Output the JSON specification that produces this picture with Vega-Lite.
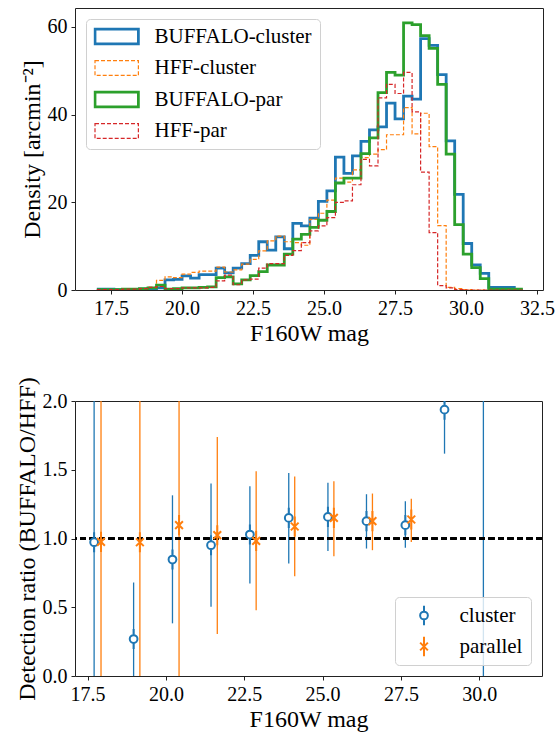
{
  "$schema": "https://vega.github.io/schema/vega-lite/v6.json",
  "background": "white",
  "padding": {"left": 14, "top": 7, "right": 5, "bottom": 5},
  "spacing": 111,
  "bounds": "flush",
  "resolve": {"scale": {"color": "independent", "shape": "independent", "strokeDash": "independent", "strokeWidth": "independent"}, "legend": {"color": "independent", "shape": "independent"}},
  "config": {
    "view": {"stroke": "#222", "strokeWidth": 1},
    "axis": {
      "domain": false, "grid": false, "ticks": true, "tickColor": "#222", "tickSize": 4, "tickWidth": 1,
      "labelFont": "Liberation Serif", "labelFontSize": 20, "labelColor": "black", "labelPadding": 4,
      "titleFont": "Liberation Serif", "titleFontSize": 24, "titleFontWeight": "normal", "titleColor": "black", "titlePadding": 3
    },
    "legend": {"labelFont": "Liberation Serif", "labelColor": "black"}
  },
  "datasets": {
    "hist": [
      {"sample":"BUFFALO-cluster","mag":17.0,"density":0.2},{"sample":"BUFFALO-cluster","mag":17.3,"density":0.2},{"sample":"BUFFALO-cluster","mag":17.6,"density":0.1},{"sample":"BUFFALO-cluster","mag":17.9,"density":0.1},{"sample":"BUFFALO-cluster","mag":18.2,"density":0.1},{"sample":"BUFFALO-cluster","mag":18.5,"density":0.2},{"sample":"BUFFALO-cluster","mag":18.8,"density":0.3},{"sample":"BUFFALO-cluster","mag":19.1,"density":0.5},{"sample":"BUFFALO-cluster","mag":19.4,"density":2.3},{"sample":"BUFFALO-cluster","mag":19.7,"density":2.4},
      {"sample":"BUFFALO-cluster","mag":20.0,"density":3.2},{"sample":"BUFFALO-cluster","mag":20.3,"density":2.7},{"sample":"BUFFALO-cluster","mag":20.6,"density":3.5},{"sample":"BUFFALO-cluster","mag":20.9,"density":3.5},{"sample":"BUFFALO-cluster","mag":21.2,"density":5.0},{"sample":"BUFFALO-cluster","mag":21.5,"density":3.9},{"sample":"BUFFALO-cluster","mag":21.8,"density":5.0},{"sample":"BUFFALO-cluster","mag":22.1,"density":6.0},{"sample":"BUFFALO-cluster","mag":22.4,"density":7.9},{"sample":"BUFFALO-cluster","mag":22.7,"density":11.0},
      {"sample":"BUFFALO-cluster","mag":23.0,"density":9.1},{"sample":"BUFFALO-cluster","mag":23.3,"density":12.1},{"sample":"BUFFALO-cluster","mag":23.6,"density":9.4},{"sample":"BUFFALO-cluster","mag":23.9,"density":15.2},{"sample":"BUFFALO-cluster","mag":24.2,"density":14.6},{"sample":"BUFFALO-cluster","mag":24.5,"density":16.4},{"sample":"BUFFALO-cluster","mag":24.8,"density":20.2},{"sample":"BUFFALO-cluster","mag":25.1,"density":22.6},{"sample":"BUFFALO-cluster","mag":25.4,"density":30.3},{"sample":"BUFFALO-cluster","mag":25.7,"density":26.6},
      {"sample":"BUFFALO-cluster","mag":26.0,"density":30.6},{"sample":"BUFFALO-cluster","mag":26.3,"density":33.9},{"sample":"BUFFALO-cluster","mag":26.6,"density":36.5},{"sample":"BUFFALO-cluster","mag":26.9,"density":37.2},{"sample":"BUFFALO-cluster","mag":27.2,"density":42.6},{"sample":"BUFFALO-cluster","mag":27.5,"density":39.0},{"sample":"BUFFALO-cluster","mag":27.8,"density":44.2},{"sample":"BUFFALO-cluster","mag":28.1,"density":43.5},{"sample":"BUFFALO-cluster","mag":28.4,"density":57.3},{"sample":"BUFFALO-cluster","mag":28.7,"density":55.8},
      {"sample":"BUFFALO-cluster","mag":29.0,"density":49.1},{"sample":"BUFFALO-cluster","mag":29.3,"density":34.0},{"sample":"BUFFALO-cluster","mag":29.6,"density":21.8},{"sample":"BUFFALO-cluster","mag":29.9,"density":10.6},{"sample":"BUFFALO-cluster","mag":30.2,"density":5.7},{"sample":"BUFFALO-cluster","mag":30.5,"density":3.8},{"sample":"BUFFALO-cluster","mag":30.8,"density":0.6},{"sample":"BUFFALO-cluster","mag":31.1,"density":0.6},{"sample":"BUFFALO-cluster","mag":31.4,"density":0.6},{"sample":"BUFFALO-cluster","mag":31.7,"density":0.0},{"sample":"BUFFALO-cluster","mag":32.0,"density":0.0},

      {"sample":"HFF-cluster","mag":17.0,"density":0.0},{"sample":"HFF-cluster","mag":17.3,"density":0.0},{"sample":"HFF-cluster","mag":17.6,"density":0.0},{"sample":"HFF-cluster","mag":17.9,"density":0.1},{"sample":"HFF-cluster","mag":18.2,"density":0.1},{"sample":"HFF-cluster","mag":18.5,"density":0.3},{"sample":"HFF-cluster","mag":18.8,"density":0.6},{"sample":"HFF-cluster","mag":19.1,"density":2.2},{"sample":"HFF-cluster","mag":19.4,"density":3.0},{"sample":"HFF-cluster","mag":19.7,"density":2.8},
      {"sample":"HFF-cluster","mag":20.0,"density":3.6},{"sample":"HFF-cluster","mag":20.3,"density":4.0},{"sample":"HFF-cluster","mag":20.6,"density":4.3},{"sample":"HFF-cluster","mag":20.9,"density":4.3},{"sample":"HFF-cluster","mag":21.2,"density":5.2},{"sample":"HFF-cluster","mag":21.5,"density":4.1},{"sample":"HFF-cluster","mag":21.8,"density":4.6},{"sample":"HFF-cluster","mag":22.1,"density":5.9},{"sample":"HFF-cluster","mag":22.4,"density":7.0},{"sample":"HFF-cluster","mag":22.7,"density":8.9},
      {"sample":"HFF-cluster","mag":23.0,"density":11.2},{"sample":"HFF-cluster","mag":23.3,"density":12.3},{"sample":"HFF-cluster","mag":23.6,"density":11.0},{"sample":"HFF-cluster","mag":23.9,"density":10.8},{"sample":"HFF-cluster","mag":24.2,"density":10.2},{"sample":"HFF-cluster","mag":24.5,"density":16.1},{"sample":"HFF-cluster","mag":24.8,"density":17.5},{"sample":"HFF-cluster","mag":25.1,"density":20.5},{"sample":"HFF-cluster","mag":25.4,"density":25.5},{"sample":"HFF-cluster","mag":25.7,"density":24.6},
      {"sample":"HFF-cluster","mag":26.0,"density":27.4},{"sample":"HFF-cluster","mag":26.3,"density":30.2},{"sample":"HFF-cluster","mag":26.6,"density":31.0},{"sample":"HFF-cluster","mag":26.9,"density":32.0},{"sample":"HFF-cluster","mag":27.2,"density":35.4},{"sample":"HFF-cluster","mag":27.5,"density":35.4},{"sample":"HFF-cluster","mag":27.8,"density":41.6},{"sample":"HFF-cluster","mag":28.1,"density":35.6},{"sample":"HFF-cluster","mag":28.4,"density":40.3},{"sample":"HFF-cluster","mag":28.7,"density":32.7},
      {"sample":"HFF-cluster","mag":29.0,"density":14.7},{"sample":"HFF-cluster","mag":29.3,"density":0.6},{"sample":"HFF-cluster","mag":29.6,"density":0.3},{"sample":"HFF-cluster","mag":29.9,"density":0.1},{"sample":"HFF-cluster","mag":30.2,"density":0.0},{"sample":"HFF-cluster","mag":30.5,"density":0.0},{"sample":"HFF-cluster","mag":30.8,"density":0.0},{"sample":"HFF-cluster","mag":31.1,"density":0.0},{"sample":"HFF-cluster","mag":31.4,"density":0.0},{"sample":"HFF-cluster","mag":31.7,"density":0.0},{"sample":"HFF-cluster","mag":32.0,"density":0.0},

      {"sample":"BUFFALO-par","mag":17.0,"density":0.1},{"sample":"BUFFALO-par","mag":17.3,"density":0.1},{"sample":"BUFFALO-par","mag":17.6,"density":0.1},{"sample":"BUFFALO-par","mag":17.9,"density":0.2},{"sample":"BUFFALO-par","mag":18.2,"density":0.2},{"sample":"BUFFALO-par","mag":18.5,"density":0.3},{"sample":"BUFFALO-par","mag":18.8,"density":0.5},{"sample":"BUFFALO-par","mag":19.1,"density":1.1},{"sample":"BUFFALO-par","mag":19.4,"density":0.2},{"sample":"BUFFALO-par","mag":19.7,"density":0.3},
      {"sample":"BUFFALO-par","mag":20.0,"density":0.5},{"sample":"BUFFALO-par","mag":20.3,"density":0.5},{"sample":"BUFFALO-par","mag":20.6,"density":0.6},{"sample":"BUFFALO-par","mag":20.9,"density":0.7},{"sample":"BUFFALO-par","mag":21.2,"density":2.8},{"sample":"BUFFALO-par","mag":21.5,"density":3.0},{"sample":"BUFFALO-par","mag":21.8,"density":1.4},{"sample":"BUFFALO-par","mag":22.1,"density":2.3},{"sample":"BUFFALO-par","mag":22.4,"density":3.3},{"sample":"BUFFALO-par","mag":22.7,"density":4.2},
      {"sample":"BUFFALO-par","mag":23.0,"density":5.7},{"sample":"BUFFALO-par","mag":23.3,"density":5.7},{"sample":"BUFFALO-par","mag":23.6,"density":8.2},{"sample":"BUFFALO-par","mag":23.9,"density":11.6},{"sample":"BUFFALO-par","mag":24.2,"density":12.7},{"sample":"BUFFALO-par","mag":24.5,"density":14.3},{"sample":"BUFFALO-par","mag":24.8,"density":15.9},{"sample":"BUFFALO-par","mag":25.1,"density":17.9},{"sample":"BUFFALO-par","mag":25.4,"density":24.4},{"sample":"BUFFALO-par","mag":25.7,"density":25.5},
      {"sample":"BUFFALO-par","mag":26.0,"density":25.5},{"sample":"BUFFALO-par","mag":26.3,"density":31.1},{"sample":"BUFFALO-par","mag":26.6,"density":34.7},{"sample":"BUFFALO-par","mag":26.9,"density":45.0},{"sample":"BUFFALO-par","mag":27.2,"density":49.6},{"sample":"BUFFALO-par","mag":27.5,"density":49.0},{"sample":"BUFFALO-par","mag":27.8,"density":60.9},{"sample":"BUFFALO-par","mag":28.1,"density":60.5},{"sample":"BUFFALO-par","mag":28.4,"density":58.0},{"sample":"BUFFALO-par","mag":28.7,"density":55.1},
      {"sample":"BUFFALO-par","mag":29.0,"density":46.9},{"sample":"BUFFALO-par","mag":29.3,"density":31.0},{"sample":"BUFFALO-par","mag":29.6,"density":14.9},{"sample":"BUFFALO-par","mag":29.9,"density":8.2},{"sample":"BUFFALO-par","mag":30.2,"density":5.1},{"sample":"BUFFALO-par","mag":30.5,"density":2.6},{"sample":"BUFFALO-par","mag":30.8,"density":0.2},{"sample":"BUFFALO-par","mag":31.1,"density":0.2},{"sample":"BUFFALO-par","mag":31.4,"density":0.2},{"sample":"BUFFALO-par","mag":31.7,"density":0.2},{"sample":"BUFFALO-par","mag":32.0,"density":0.2},

      {"sample":"HFF-par","mag":17.0,"density":0.1},{"sample":"HFF-par","mag":17.3,"density":0.1},{"sample":"HFF-par","mag":17.6,"density":0.1},{"sample":"HFF-par","mag":17.9,"density":0.2},{"sample":"HFF-par","mag":18.2,"density":0.2},{"sample":"HFF-par","mag":18.5,"density":0.3},{"sample":"HFF-par","mag":18.8,"density":0.6},{"sample":"HFF-par","mag":19.1,"density":0.8},{"sample":"HFF-par","mag":19.4,"density":0.3},{"sample":"HFF-par","mag":19.7,"density":0.3},
      {"sample":"HFF-par","mag":20.0,"density":0.5},{"sample":"HFF-par","mag":20.3,"density":0.5},{"sample":"HFF-par","mag":20.6,"density":0.5},{"sample":"HFF-par","mag":20.9,"density":0.6},{"sample":"HFF-par","mag":21.2,"density":2.1},{"sample":"HFF-par","mag":21.5,"density":3.4},{"sample":"HFF-par","mag":21.8,"density":1.2},{"sample":"HFF-par","mag":22.1,"density":2.3},{"sample":"HFF-par","mag":22.4,"density":2.5},{"sample":"HFF-par","mag":22.7,"density":5.0},
      {"sample":"HFF-par","mag":23.0,"density":6.0},{"sample":"HFF-par","mag":23.3,"density":6.0},{"sample":"HFF-par","mag":23.6,"density":7.9},{"sample":"HFF-par","mag":23.9,"density":9.0},{"sample":"HFF-par","mag":24.2,"density":10.8},{"sample":"HFF-par","mag":24.5,"density":13.5},{"sample":"HFF-par","mag":24.8,"density":14.6},{"sample":"HFF-par","mag":25.1,"density":16.5},{"sample":"HFF-par","mag":25.4,"density":20.0},{"sample":"HFF-par","mag":25.7,"density":20.3},
      {"sample":"HFF-par","mag":26.0,"density":24.0},{"sample":"HFF-par","mag":26.3,"density":29.8},{"sample":"HFF-par","mag":26.6,"density":28.3},{"sample":"HFF-par","mag":26.9,"density":43.8},{"sample":"HFF-par","mag":27.2,"density":46.9},{"sample":"HFF-par","mag":27.5,"density":44.8},{"sample":"HFF-par","mag":27.8,"density":49.6},{"sample":"HFF-par","mag":28.1,"density":40.6},{"sample":"HFF-par","mag":28.4,"density":26.9},{"sample":"HFF-par","mag":28.7,"density":13.1},
      {"sample":"HFF-par","mag":29.0,"density":1.0},{"sample":"HFF-par","mag":29.3,"density":0.5},{"sample":"HFF-par","mag":29.6,"density":0.1},{"sample":"HFF-par","mag":29.9,"density":0.0},{"sample":"HFF-par","mag":30.2,"density":0.0},{"sample":"HFF-par","mag":30.5,"density":0.0},{"sample":"HFF-par","mag":30.8,"density":0.0},{"sample":"HFF-par","mag":31.1,"density":0.0},{"sample":"HFF-par","mag":31.4,"density":0.0},{"sample":"HFF-par","mag":31.7,"density":0.0},{"sample":"HFF-par","mag":32.0,"density":0.0}
    ],
    "ratio": [
      {"sample":"cluster","mag":17.71,"ratio":0.973,"lo":-0.5,"hi":2.5},
      {"sample":"cluster","mag":18.97,"ratio":0.269,"lo":-0.14,"hi":0.68},
      {"sample":"cluster","mag":20.21,"ratio":0.847,"lo":0.383,"hi":1.314},
      {"sample":"cluster","mag":21.44,"ratio":0.951,"lo":0.503,"hi":1.40},
      {"sample":"cluster","mag":22.68,"ratio":1.029,"lo":0.673,"hi":1.38},
      {"sample":"cluster","mag":23.92,"ratio":1.15,"lo":0.818,"hi":1.476},
      {"sample":"cluster","mag":25.17,"ratio":1.157,"lo":0.91,"hi":1.406},
      {"sample":"cluster","mag":26.40,"ratio":1.126,"lo":0.927,"hi":1.322},
      {"sample":"cluster","mag":27.64,"ratio":1.097,"lo":0.932,"hi":1.271},
      {"sample":"cluster","mag":28.89,"ratio":1.937,"lo":1.617,"hi":2.257},
      {"sample":"cluster","mag":30.13,"ratio":null,"lo":-1,"hi":5},
      {"sample":"parallel","mag":17.93,"ratio":0.975,"lo":-0.3,"hi":2.3},
      {"sample":"parallel","mag":19.17,"ratio":0.973,"lo":-0.3,"hi":2.3},
      {"sample":"parallel","mag":20.42,"ratio":1.097,"lo":-0.2,"hi":2.4},
      {"sample":"parallel","mag":21.64,"ratio":1.024,"lo":0.305,"hi":1.738},
      {"sample":"parallel","mag":22.88,"ratio":0.983,"lo":0.479,"hi":1.49},
      {"sample":"parallel","mag":24.11,"ratio":1.087,"lo":0.726,"hi":1.45},
      {"sample":"parallel","mag":25.36,"ratio":1.15,"lo":0.871,"hi":1.416},
      {"sample":"parallel","mag":26.59,"ratio":1.126,"lo":0.915,"hi":1.327},
      {"sample":"parallel","mag":27.83,"ratio":1.138,"lo":0.975,"hi":1.29}
    ]
  },
  "vconcat": [
    {
      "width": 468,
      "height": 282,
      "data": {"name": "hist"},
      "mark": {"type": "line", "interpolate": "step-after", "clip": true},
      "encoding": {
        "x": {"field": "mag", "type": "quantitative",
              "scale": {"domain": [16.23, 32.71], "nice": false, "zero": false},
              "axis": {"values": [17.5, 20, 22.5, 25, 27.5, 30, 32.5], "format": ".1f", "title": "F160W mag"}},
        "y": {"field": "density", "type": "quantitative",
              "scale": {"domain": [0, 64.3], "nice": false},
              "axis": {"values": [0, 20, 40, 60], "title": "Density [arcmin⁻²]"}},
        "color": {"field": "sample", "type": "nominal",
                  "scale": {"domain": ["BUFFALO-cluster", "HFF-cluster", "BUFFALO-par", "HFF-par"],
                            "range": ["#1f77b4", "#ff7f0e", "#2ca02c", "#d62728"]},
                  "legend": {"title": null, "orient": "top-left", "offset": 11, "padding": 7.5,
                             "fillColor": "rgba(255,255,255,0.8)", "strokeColor": "#d0d0d0", "cornerRadius": 4,
                             "labelFont": "Liberation Serif", "labelFontSize": 21, "labelOffset": 40, "labelLimit": 300,
                             "symbolType": "M-1,-0.83H3.82V0.83H-1Z", "symbolSize": 324, "rowPadding": 10.5, "clipHeight": 20,
                             "symbolFillColor": "transparent",
                             "encode": {"symbols": {"update": {
                               "strokeWidth": {"signal": "indexof(['BUFFALO-cluster','BUFFALO-par'], datum.value) >= 0 ? 2.8 : 1.2"},
                               "strokeDash": {"signal": "indexof(['BUFFALO-cluster','BUFFALO-par'], datum.value) >= 0 ? [1,0] : [4,2]"},
                               "fill": {"value": "transparent"}
                             }}}}},
        "strokeDash": {"field": "sample", "type": "nominal", "legend": null,
                       "scale": {"domain": ["BUFFALO-cluster", "HFF-cluster", "BUFFALO-par", "HFF-par"],
                                 "range": [[1, 0], [4, 2], [1, 0], [4, 2]]}},
        "strokeWidth": {"field": "sample", "type": "nominal", "legend": null,
                        "scale": {"type": "ordinal", "domain": ["BUFFALO-cluster", "HFF-cluster", "BUFFALO-par", "HFF-par"],
                                  "range": [2.8, 1.2, 2.8, 1.2]}}
      }
    },
    {
      "width": 467,
      "height": 275,
      "data": {"name": "ratio"},
      "layer": [
        {
          "mark": {"type": "rule", "clip": true, "strokeWidth": 1.3},
          "encoding": {
            "x": {"field": "mag", "type": "quantitative",
                  "scale": {"domain": [17.1, 32.0], "nice": false, "zero": false},
                  "axis": {"values": [17.5, 20, 22.5, 25, 27.5, 30], "format": ".1f", "title": "F160W mag"}},
            "y": {"field": "lo", "type": "quantitative",
                  "scale": {"domain": [0, 2], "nice": false},
                  "axis": {"values": [0, 0.5, 1, 1.5, 2], "format": ".1f", "title": "Detection ratio (BUFFALO/HFF)"}},
            "y2": {"field": "hi"},
            "color": {"field": "sample", "type": "nominal",
                      "scale": {"domain": ["cluster", "parallel"], "range": ["#1f77b4", "#ff7f0e"]}}
          }
        },
        {
          "mark": {"type": "rule", "color": "black", "strokeWidth": 1.6, "strokeDash": [6, 3.5]},
          "encoding": {"y": {"datum": 1}}
        },
        {
          "mark": {"type": "point", "filled": false, "fill": "white", "strokeWidth": 2, "size": 60, "opacity": 1, "clip": true},
          "encoding": {
            "x": {"field": "mag", "type": "quantitative"},
            "y": {"field": "ratio", "type": "quantitative"},
            "color": {"field": "sample", "type": "nominal",
                      "legend": {"title": null, "orient": "bottom-right", "offset": 11, "padding": 8.5,
                                 "fillColor": "rgba(255,255,255,0.8)", "strokeColor": "#d0d0d0", "cornerRadius": 4,
                                 "labelFont": "Liberation Serif", "labelFontSize": 21, "labelOffset": 25, "symbolOffset": 10, "symbolSize": 60,
                                 "symbolStrokeWidth": 2, "symbolFillColor": "white", "rowPadding": 10, "clipHeight": 20}},
            "shape": {"field": "sample", "type": "nominal",
                      "scale": {"domain": ["cluster", "parallel"],
                                "range": ["M0,-2.6V-1M0,1V2.6M1,0A1,1,0,1,1,-1,0A1,1,0,1,1,1,0Z", "M-1,-1L1,1M-1,1L1,-1M0,-2.6V2.6"]}}
          }
        }
      ]
    }
  ]
}
